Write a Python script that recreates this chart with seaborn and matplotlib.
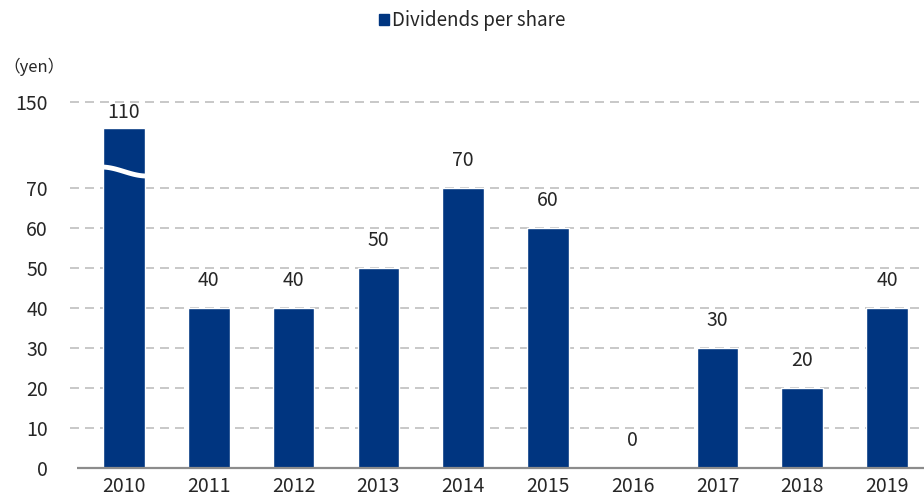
import numpy as np
import pandas as pd
import matplotlib
matplotlib.use("Agg")
import matplotlib.pyplot as plt
import seaborn as sns
from matplotlib.patches import Patch

# data
years = ["2010", "2011", "2012", "2013", "2014", "2015", "2016", "2017", "2018", "2019"]
dividends = [110, 40, 40, 50, 70, 60, 0, 30, 20, 40]
series_name = "Dividends per share"
y_ticks = [0, 10, 20, 30, 40, 50, 60, 70, 150]
unit_label = "（yen）"

# broken axis: piecewise scale (values above 70 are compressed)
brk_data = [0, 70, 110, 150, 200]
brk_disp = [0, 70, 85, 91.5, 99.625]


def fwd(v):
    return np.interp(v, brk_data, brk_disp)


def inv(v):
    return np.interp(v, brk_disp, brk_data)


bar_color = "#003580"
text_color = "#262626"

sns.set_style("white")
plt.rcParams["font.family"] = ["Noto Sans CJK JP", "DejaVu Sans"]

df = pd.DataFrame({"year": years, "value": dividends})

fig = plt.figure(figsize=(9.24, 4.99), dpi=100)
ax = fig.add_axes([70 / 924, 31 / 499, 854 / 924, 368 / 499])

sns.barplot(data=df, x="year", y="value", color=bar_color, width=0.49,
            saturation=1, ax=ax)

ax.set_yscale("function", functions=(fwd, inv))
ax.set_ylim(0, 153.1)
ax.set_xlim(-0.637, 9.436)

ax.set_yticks(y_ticks)
ax.set_yticklabels([str(t) for t in y_ticks])
ax.yaxis.set_minor_locator(matplotlib.ticker.NullLocator())
ax.tick_params(axis="y", length=0, pad=16, labelsize=14, labelcolor=text_color)
ax.tick_params(axis="x", length=0, pad=6, labelsize=14, labelcolor=text_color)
ax.set_xlabel("")
ax.set_ylabel("")

# dashed grid
ax.yaxis.grid(True, color="#bfbfbf", linewidth=1.2, linestyle=(0, (5.4, 3.6)))
ax.get_ygridlines()[0].set_visible(False)
ax.set_axisbelow(True)
for s in ax.spines.values():
    s.set_visible(False)

# baseline
ax.hlines(0, -0.55, 9.436, color="#8c8c8c", linewidth=1.6, zorder=3, clip_on=False)

# value labels
for i, v in enumerate(dividends):
    off = 11 if v > 70 else 19.5
    ax.annotate(str(v), (i, v), xytext=(0, off), textcoords="offset points",
                ha="center", va="center", fontsize=14, color=text_color)

# break mark on the tall bar
t = np.linspace(0, 1, 60)
wave_x = -0.27 + 0.54 * t
wave_y = 81 + 3 * np.cos(np.pi * t)
ax.plot(wave_x, wave_y, color="white", linewidth=3.5, zorder=4,
        solid_capstyle="butt")

# legend and unit
fig.legend(handles=[Patch(color=bar_color, label=series_name)],
           loc="center", bbox_to_anchor=(0.511, 0.958), frameon=False,
           fontsize=13.5, handlelength=0.5, handleheight=0.5,
           handletextpad=0.15, labelcolor=text_color)
fig.text(3 / 924, 1 - 67 / 499, unit_label, fontsize=12, color=text_color,
         va="center", ha="left")

fig.savefig("out.png", dpi=100)
